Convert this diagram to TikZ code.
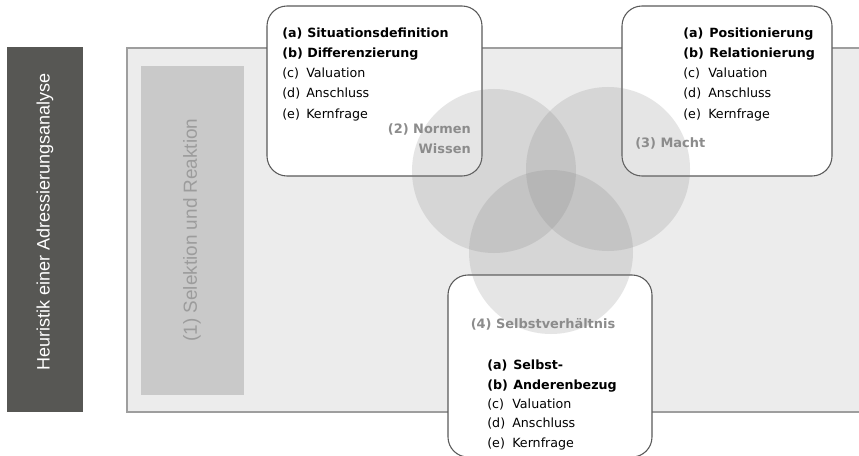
\documentclass[tikz,border=0pt]{standalone}
\usepackage{fontspec}
\setmainfont{DejaVu Sans}
\newfontfamily\armfont{Liberation Sans}
\definecolor{darkbar}{HTML}{575754}
\definecolor{mainfill}{HTML}{ECECEC}
\definecolor{mainline}{HTML}{9E9E9E}
\definecolor{innerfill}{HTML}{C9C9C9}
\definecolor{innertext}{HTML}{9C9C9C}
\definecolor{labelgray}{HTML}{8C8C8C}
\definecolor{boxline}{HTML}{5A5A5A}
\definecolor{circfill}{HTML}{7F7F7F}
\tikzset{
  panel/.style={draw=boxline, fill=white, line width=0.8pt, rounded corners=15pt},
  venn/.style={fill=circfill, fill opacity=0.2, draw=none},
  tagtext/.style={anchor=base west, inner sep=0pt, font=\fontsize{9.5}{11}\selectfont},
  bolditem/.style={tagtext, font=\fontsize{9.5}{11}\selectfont\bfseries},
  circlabel/.style={inner sep=0pt, text=labelgray, font=\fontsize{9.7}{11}\selectfont\bfseries},
}
\begin{document}
\begin{tikzpicture}[x=0.75pt,y=-0.75pt]
\useasboundingbox (0,0) rectangle (859,456);
% left dark bar
\fill[darkbar] (7,47) rectangle (83,412);
\node[rotate=90, text=white, font=\armfont\fontsize{13.5}{15}\selectfont] (title) at (45,222) {Heuristik einer Adressierungsanalyse};
% main area
\draw[fill=mainfill, draw=mainline, line width=0.8pt] (127,48) rectangle (880,412);
\fill[innerfill] (141,66) rectangle (244,395);
\node[rotate=90, text=innertext, font=\armfont\fontsize{14.2}{16}\selectfont] (sel) at (192,230) {(1) Selektion und Reaktion};
% panels
\draw[panel] (267,6) rectangle (482,176);
\draw[panel] (622,6) rectangle (832,176);
\draw[panel] (448,275) rectangle (652,457);
% circles
\fill[venn] (494,171) circle (82);
\fill[venn] (608,169) circle (82);
\fill[venn] (551,252) circle (82);
% panel 2 text
\node[bolditem] (a2) at (282,38) {(a)};
\node[bolditem] (a2t) at (307,38) {Situationsdefinition};
\node[bolditem] (b2) at (282,58) {(b)};
\node[bolditem] (b2t) at (307,58) {Differenzierung};
\node[tagtext] (c2) at (282,78) {(c)};
\node[tagtext] (c2t) at (306,78) {Valuation};
\node[tagtext] (d2) at (282,98) {(d)};
\node[tagtext] (d2t) at (306,98) {Anschluss};
\node[tagtext] (e2) at (282,118) {(e)};
\node[tagtext] (e2t) at (306,118) {Kernfrage};
\node[circlabel, anchor=base east] (n2a) at (471,133) {(2) Normen};
\node[circlabel, anchor=base east] (n2b) at (471,153) {Wissen};
% panel 3 text
\node[bolditem] (a3) at (683,38) {(a)};
\node[bolditem] (a3t) at (709,38) {Positionierung};
\node[bolditem] (b3) at (683,58) {(b)};
\node[bolditem] (b3t) at (709,58) {Relationierung};
\node[tagtext] (c3) at (683,78) {(c)};
\node[tagtext] (c3t) at (708,78) {Valuation};
\node[tagtext] (d3) at (683,98) {(d)};
\node[tagtext] (d3t) at (708,98) {Anschluss};
\node[tagtext] (e3) at (683,118) {(e)};
\node[tagtext] (e3t) at (708,118) {Kernfrage};
\node[circlabel, anchor=base west] (n3) at (635,147) {(3) Macht};
% panel 4 text
\node[circlabel, anchor=base] (n4) at (543,328) {(4) Selbstverhältnis};
\node[bolditem] (a4) at (487,369) {(a)};
\node[bolditem] (a4t) at (513,369) {Selbst-};
\node[bolditem] (b4) at (487,389) {(b)};
\node[bolditem] (b4t) at (513,389) {Anderenbezug};
\node[tagtext] (c4) at (487,408) {(c)};
\node[tagtext] (c4t) at (512,408) {Valuation};
\node[tagtext] (d4) at (487,427) {(d)};
\node[tagtext] (d4t) at (512,427) {Anschluss};
\node[tagtext] (e4) at (487,447) {(e)};
\node[tagtext] (e4t) at (512,447) {Kernfrage};
\end{tikzpicture}
\end{document}
